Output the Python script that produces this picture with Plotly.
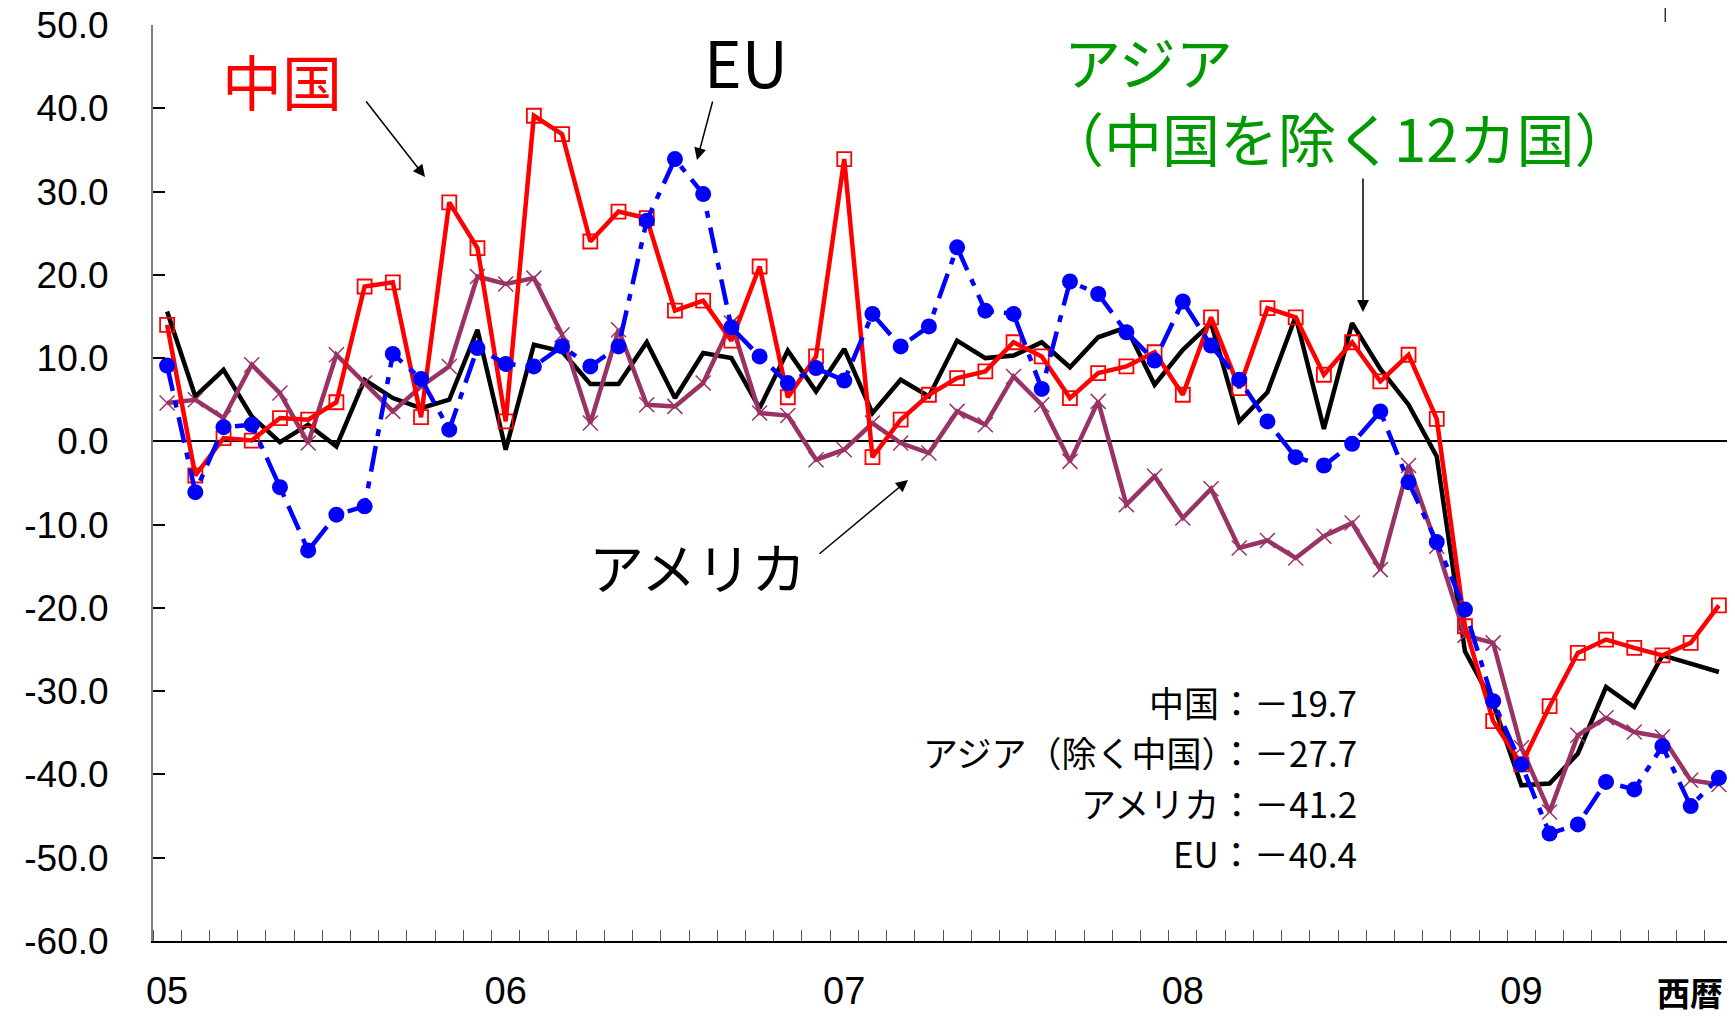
import plotly.graph_objects as go

# Monthly index: Jan 2005 (0) ... Aug 2009 (55)
months = list(range(56))
year_ticks = [0, 12, 24, 36, 48]
year_labels = ["05", "06", "07", "08", "09"]
y_ticks = [-60, -50, -40, -30, -20, -10, 0, 10, 20, 30, 40, 50]
y_labels = ["-60.0", "-50.0", "-40.0", "-30.0", "-20.0", "-10.0", "0.0",
            "10.0", "20.0", "30.0", "40.0", "50.0"]

china = [14.0, -4.1, 0.4, 0.1, 2.8, 2.6, 4.7, 18.6, 19.1, 2.9, 28.7, 23.2,
         2.4, 39.1, 36.9, 24.0, 27.6, 26.8, 15.7, 16.9, 12.1, 21.0, 5.3, 10.2,
         33.9, -1.9, 2.6, 5.6, 7.6, 8.4, 11.9, 10.2, 5.2, 8.2, 9.0, 10.7,
         5.6, 14.9, 6.4, 16.0, 14.9, 8.0, 11.9, 7.2, 10.4, 2.7, -22.2, -33.6,
         -38.8, -31.8, -25.4, -23.8, -24.8, -25.7, -24.2, -19.7]

asia = [15.6, 5.4, 8.6, 3.0, -0.1, 2.0, -0.6, 7.4, 5.2, 4.0, 5.0, 13.4,
        -1.0, 11.6, 10.8, 6.9, 6.9, 11.9, 5.2, 10.6, 10.0, 4.0, 10.9, 6.0,
        11.1, 3.4, 7.4, 5.4, 12.1, 10.0, 10.3, 11.9, 8.9, 12.5, 13.7, 6.8,
        11.0, 14.2, 2.4, 5.9, 15.0, 1.5, 14.2, 8.7, 4.4, -1.8, -25.2, -31.5,
        -41.3, -41.1, -37.5, -29.5, -31.9, -25.7, -26.7, -27.7]

america = [4.6, 5.0, 2.8, 9.2, 5.8, -0.2, 10.4, 7.0, 3.6, 6.6, 9.0, 19.8,
           18.9, 19.6, 12.8, 2.2, 13.4, 4.4, 4.2, 7.0, 14.2, 3.4, 3.1, -2.2,
           -1.0, 2.2, -0.2, -1.4, 3.6, 2.0, 7.8, 4.4, -2.4, 4.8, -7.6, -4.2,
           -9.2, -5.7, -12.8, -11.9, -14.0, -11.4, -9.8, -15.4, -2.9, -12.6, -23.3, -24.2,
           -36.8, -44.5, -35.3, -33.2, -34.9, -35.5, -40.7, -41.2]

eu = [9.1, -6.1, 1.7, 2.0, -5.5, -13.1, -8.8, -7.8, 10.5, 7.5, 1.4, 11.2,
      9.3, 9.0, 11.4, 9.0, 11.4, 26.5, 33.9, 29.7, 13.7, 10.2, 7.0, 8.8,
      7.3, 15.3, 11.4, 13.8, 23.3, 15.7, 15.3, 6.3, 19.2, 17.7, 13.1, 9.7,
      16.8, 11.5, 7.4, 2.4, -1.9, -2.9, -0.3, 3.6, -4.9, -12.1, -20.2, -31.2,
      -38.8, -47.1, -46.0, -40.9, -41.8, -36.6, -43.8, -40.4]

summary_lines = ["中国：－19.7", "アジア（除く中国）：－27.7", "アメリカ：－41.2", "EU：－40.4"]

# The page body adds an 8px offset; size the figure to fit the 1735x1016 window
OFF = 8
W, H = 1727, 1008
L, R, T, B = 145, 2, 17, 75
PW, PH = W - L - R, H - T - B

def px(X):
    # screenshot pixel x -> paper x
    return (X - OFF - L) / PW

def py(Y):
    # screenshot pixel y -> paper y
    return (H - B - (Y - OFF)) / PH

JP = "Noto Sans CJK JP"
NUM = "Liberation Sans, Arial"

fig = go.Figure()
fig.add_trace(go.Scatter(x=months, y=asia, mode="lines", name="アジア",
                         line=dict(color="#000000", width=4.5)))
fig.add_trace(go.Scatter(x=months, y=america, mode="lines+markers", name="アメリカ",
                         line=dict(color="#993366", width=4.5),
                         marker=dict(symbol="x-thin", size=15,
                                     line=dict(color="#993366", width=1.5))))
fig.add_trace(go.Scatter(x=months, y=china, mode="lines+markers", name="中国",
                         line=dict(color="#FF0000", width=4.5),
                         marker=dict(symbol="square-open", size=14, color="#FF0000",
                                     line=dict(color="#FF0000", width=1.8))))
fig.add_trace(go.Scatter(x=months, y=eu, mode="lines+markers", name="EU",
                         line=dict(color="#0000FF", width=4.5, dash="26px,10px,7px,10px"),
                         marker=dict(symbol="circle", size=16, color="#0000FF")))

annotations = []
# Series labels
annotations.append(dict(text="中国", x=px(282), y=py(80), xref="paper", yref="paper",
                        showarrow=False, xanchor="center", yanchor="middle",
                        font=dict(family=JP, size=60, color="#FF0000")))
annotations.append(dict(text="EU", x=px(746), y=py(60), xref="paper", yref="paper",
                        showarrow=False, xanchor="center", yanchor="middle",
                        font=dict(family=JP, size=64, color="#000000")))
annotations.append(dict(text="アジア", x=px(1062), y=py(60), xref="paper", yref="paper",
                        showarrow=False, xanchor="left", yanchor="middle", align="left",
                        font=dict(family=JP, size=57, color="#009900")))
annotations.append(dict(text="（中国を除く12カ国）", x=px(1044), y=py(137), xref="paper", yref="paper",
                        showarrow=False, xanchor="left", yanchor="middle", align="left",
                        font=dict(family=JP, size=58, color="#009900")))
annotations.append(dict(text="アメリカ", x=px(697), y=py(565), xref="paper", yref="paper",
                        showarrow=False, xanchor="center", yanchor="middle",
                        font=dict(family=JP, size=55, color="#000000")))
# Arrows (tail -> head), pixel positions; tail given as pixel offset from head
arrows = [((365, 100), (425, 177)), ((713, 100), (697, 160)),
          ((1363, 177), (1363, 312)), ((818, 555), (908, 480))]
for (tx, ty), (hx, hy) in arrows:
    annotations.append(dict(text="", x=px(hx), y=py(hy), xref="paper", yref="paper",
                            ax=tx - hx, ay=ty - hy, axref="pixel", ayref="pixel",
                            showarrow=True, arrowhead=2, arrowsize=1.6, arrowwidth=1.5,
                            arrowcolor="#000000", standoff=0))
# Summary block
for i, line in enumerate(summary_lines):
    annotations.append(dict(text=line, x=px(1359), y=py(701 + 50.5 * i), xref="paper", yref="paper",
                            showarrow=False, xanchor="right", yanchor="middle",
                            font=dict(family=JP, size=35, color="#000000")))
# Axis unit label
annotations.append(dict(text="<b>西暦</b>", x=px(1690), y=py(992), xref="paper", yref="paper",
                        showarrow=False, xanchor="center", yanchor="middle",
                        font=dict(family=JP, size=33, color="#000000")))

fig.update_layout(
    width=W, height=H,
    margin=dict(l=L, r=R, t=T, b=B, pad=0, autoexpand=False),
    paper_bgcolor="white", plot_bgcolor="white",
    showlegend=False,
    annotations=annotations,
    shapes=[dict(type="line", xref="x", yref="paper", x0=53.1, x1=53.1,
                 y0=py(0), y1=py(22), line=dict(color="#333333", width=1.5))],
    xaxis=dict(range=[-0.5, 55.5], tickmode="array", tickvals=year_ticks, ticktext=year_labels,
               ticks="", showgrid=False, zeroline=False, automargin=False,
               showline=True, linecolor="#000000", linewidth=2,
               tickfont=dict(family=NUM, size=38, color="#000000"),
               ticklabelstandoff=15, ticklabeloverflow="allow",
               minor=dict(tickmode="array", tickvals=[k - 0.5 for k in range(57)],
                          ticks="inside", ticklen=11, tickwidth=1, tickcolor="#555555",
                          showgrid=False)),
    yaxis=dict(range=[-60, 50], tickmode="array", tickvals=y_ticks, ticktext=y_labels,
               ticks="inside", ticklen=12, tickwidth=2, tickcolor="#000000",
               showline=True, linecolor="#808080", linewidth=2, automargin=False,
               showgrid=False, zeroline=True, zerolinecolor="#000000", zerolinewidth=1.5,
               tickfont=dict(family=NUM, size=37, color="#000000"),
               ticklabelstandoff=35, ticklabeloverflow="allow"),
)

fig.write_html("out.html")
